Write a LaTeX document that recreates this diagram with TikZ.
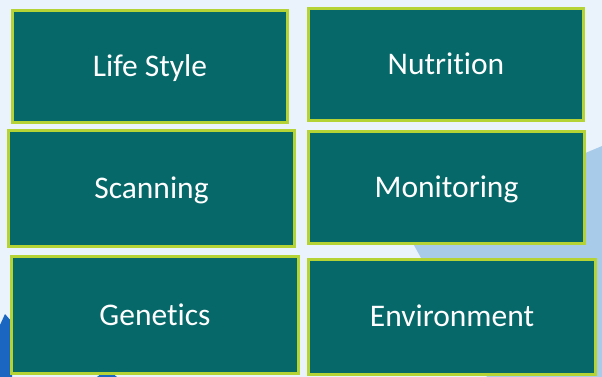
\documentclass[tikz,border=0pt]{standalone}
\usepackage{fontspec}
\setmainfont{Carlito}[Ligatures=NoCommon]
\definecolor{bgblue}{HTML}{EAF3FB}
\definecolor{lightblue}{HTML}{A9CBEA}
\definecolor{deepblue}{HTML}{1A66C0}
\definecolor{tealfill}{HTML}{066869}
\definecolor{limeedge}{HTML}{B5D334}
\tikzset{
  tilebox/.style={rectangle, draw=limeedge, line width=3pt, fill=tealfill,
    text=white, font=\fontsize{31.5}{36}\selectfont, inner sep=0pt, anchor=center,
    text height=20.3pt, text depth=0pt},
}
\begin{document}
\begin{tikzpicture}[x=1pt,y=-1pt]
\useasboundingbox (0,0) rectangle (602,377);
\fill[bgblue] (0,0) rectangle (602,377);
\fill[lightblue] (405,229) -- (602,146) -- (602,377) -- (487,377) -- cycle;
\fill[deepblue] (0,325) -- (5,314) -- (12,322) -- (12,377) -- (0,377) -- cycle;
\fill[deepblue] (97,377) -- (107,369) -- (117,377) -- cycle;

\node[tilebox, minimum width=275pt, minimum height=112pt] (life) at (150,66.5) {Life Style};
\node[tilebox, minimum width=275pt, minimum height=112pt] (nutr) at (446,64.5) {Nutrition};
\node[tilebox, minimum width=286pt, minimum height=116pt] (scan) at (151.5,188.5) {Scanning};
\node[tilebox, minimum width=276pt, minimum height=112pt] (moni) at (446.5,187.5) {Monitoring};
\node[tilebox, minimum width=287pt, minimum height=117pt] (gene) at (155,315) {Genetics};
\node[tilebox, minimum width=287pt, minimum height=115pt] (envi) at (452,316.5) {Environment};
\end{tikzpicture}
\end{document}
